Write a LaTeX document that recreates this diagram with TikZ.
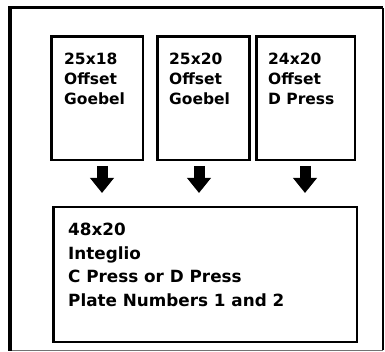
\documentclass[tikz,border=0pt]{standalone}
\usepackage{fontspec}
\setmainfont{DejaVu Sans}
\usetikzlibrary{arrows.meta}
\tikzset{
  box/.style={draw=black, line width=2.4pt, rectangle, inner sep=0pt, outer sep=0pt},
  smalltext/.style={anchor=north west, inner sep=0pt, align=left,
    font={\fontsize{15.5}{20}\selectfont\bfseries}},
  bigtext/.style={anchor=north west, inner sep=0pt, align=left,
    font={\fontsize{16.8}{23.5}\selectfont\bfseries}},
  blockarrow/.style={draw=black, line width=11pt, line cap=butt,
    -{Triangle[width=23pt,length=15pt]}},
}
\begin{document}
\begin{tikzpicture}[x=1pt,y=-1pt]
\useasboundingbox (0,0) rectangle (385,352);
% outer frame
\draw[line width=1.2pt] (383,8) -- (383,350);
\draw[line width=1pt, black!55] (10,350) -- (383,350);
\draw[line width=3pt] (10,8) -- (383,8);
\draw[line width=4pt] (10,6.5) -- (10,351);
% top boxes
\node[box, anchor=north west, minimum width=91.5pt, minimum height=123.5pt] (b1) at (51.5,36.5) {};
\node[box, anchor=north west, minimum width=92pt, minimum height=123.5pt] (b2) at (157.5,36.5) {};
\node[box, anchor=north west, minimum width=98.5pt, minimum height=123.5pt] (b3) at (256.5,36.5) {};
\node[smalltext] (t1) at (64,53) {25x18\\Offset\\Goebel};
\node[smalltext] (t2) at (169,53) {25x20\\Offset\\Goebel};
\node[smalltext] (t3) at (268,53) {24x20\\Offset\\D Press};
% bottom box
\node[box, anchor=north west, minimum width=303.5pt, minimum height=135pt] (b4) at (53.5,207) {};
\node[bigtext] (t4) at (68,223) {48x20\\Integlio\\C Press or D Press\\Plate Numbers 1 and 2};
% arrows
\coordinate (a1s) at (102,166); \coordinate (a1e) at (102,193);
\coordinate (a2s) at (199,166); \coordinate (a2e) at (199,193);
\coordinate (a3s) at (305,166); \coordinate (a3e) at (305,193);
\draw[blockarrow] (a1s) -- (a1e);
\draw[blockarrow] (a2s) -- (a2e);
\draw[blockarrow] (a3s) -- (a3e);
\end{tikzpicture}
\end{document}
